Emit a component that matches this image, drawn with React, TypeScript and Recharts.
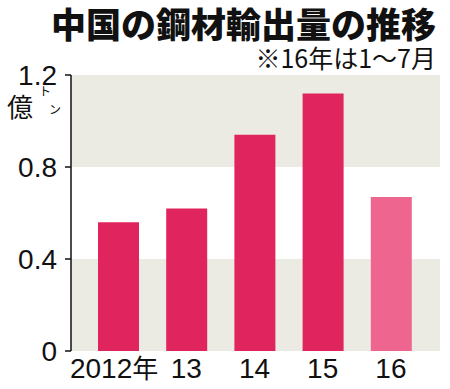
import React from "react";
import { BarChart, Bar, XAxis, YAxis, Cell, CartesianGrid } from "recharts";

const years = ["2012年", "13", "14", "15", "16"];
const exports = [0.56, 0.62, 0.94, 1.12, 0.67];
// 16年は1～7月のみ
const partialYear = [false, false, false, false, true];
const yTicks = [0, 0.4, 0.8, 1.2];

const data = years.map((year, i) => ({
  year,
  value: exports[i],
  partial: partialYear[i],
}));

const FONT = '"Liberation Sans", Arial, sans-serif';
const CJK = '"Noto Sans CJK JP", sans-serif';
const BAR = "#E0245E";
const BAR_LIGHT = "#EE6690";
const BAND = "#EBEBE4";

// eslint-disable-next-line @typescript-eslint/no-explicit-any
function YTick(props: any) {
  const { x, y, payload } = props;
  const v = Number(payload.value);
  return (
    <text x={x} y={y} dy={10} textAnchor="end" fontSize={28} fontFamily={FONT} fill="#111">
      {v === 0 ? "0" : v.toFixed(1)}
    </text>
  );
}

// eslint-disable-next-line @typescript-eslint/no-explicit-any
function XTick(props: any) {
  const { x, y, payload } = props;
  const label = String(payload.value);
  const hasNen = label.endsWith("年");
  return (
    <text x={hasNen ? x - 4 : x} y={y} dy={19} textAnchor="middle" fontSize={28} fontFamily={FONT} fill="#111">
      {hasNen ? (
        <>
          {label.slice(0, -1)}
          <tspan fontFamily={CJK} fontSize={26}>年</tspan>
        </>
      ) : (
        label
      )}
    </text>
  );
}

export default function App() {
  return (
    <div
      style={{
        position: "absolute",
        left: 0,
        top: 0,
        width: 450,
        height: 389,
        background: "#fff",
        overflow: "hidden",
      }}
    >
      <div
        style={{
          position: "absolute",
          right: 14,
          top: 4,
          fontFamily: CJK,
          fontWeight: 900,
          fontSize: 35,
          lineHeight: "38px",
          color: "#111",
          whiteSpace: "nowrap",
        }}
      >
        中国の鋼材輸出量の推移
      </div>
      <div
        style={{
          position: "absolute",
          right: 14,
          top: 44,
          fontFamily: CJK,
          fontSize: 25,
          lineHeight: "27px",
          color: "#111",
          whiteSpace: "nowrap",
        }}
      >
        ※16年は1～7月
      </div>
      <div
        style={{
          position: "absolute",
          left: 7,
          top: 91,
          fontFamily: CJK,
          fontSize: 26,
          lineHeight: "30px",
          color: "#111",
        }}
      >
        億
      </div>
      <div
        style={{ position: "absolute", left: 39, top: 85, fontFamily: CJK, fontSize: 12, lineHeight: "12px", color: "#111" }}
      >
        ト
      </div>
      <div
        style={{ position: "absolute", left: 49, top: 103, fontFamily: CJK, fontSize: 12, lineHeight: "12px", color: "#111" }}
      >
        ン
      </div>
      <BarChart
        width={450}
        height={389}
        data={data}
        margin={{ top: 75, right: 10, bottom: 8, left: 0 }}
        style={{ position: "absolute", left: 0, top: 0 }}
      >
        <CartesianGrid
          vertical={false}
          stroke="transparent"
          horizontalFill={[BAND, "#ffffff"]}
          fillOpacity={1}
        />
        <XAxis
          dataKey="year"
          height={30}
          axisLine={false}
          tickLine={false}
          padding={{ left: 13, right: 15 }}
          tick={<XTick />}
          interval={0}
        />
        <YAxis
          domain={[0, 1.2]}
          ticks={yTicks}
          width={71}
          axisLine={{ stroke: "#111", strokeWidth: 1.5 }}
          tickLine={{ stroke: "#111", strokeWidth: 1.5 }}
          tickSize={6}
          tickMargin={8}
          tick={<YTick />}
          interval={0}
        />
        <Bar dataKey="value" barSize={41} isAnimationActive={false}>
          {data.map((d) => (
            <Cell key={d.year} fill={d.partial ? BAR_LIGHT : BAR} />
          ))}
        </Bar>
      </BarChart>
    </div>
  );
}
